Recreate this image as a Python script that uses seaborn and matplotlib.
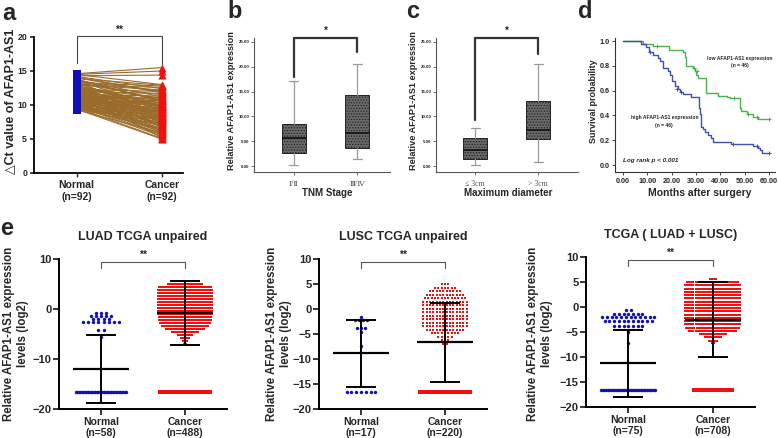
import numpy as np
import pandas as pd
import matplotlib
matplotlib.use("Agg")
import matplotlib.pyplot as plt
import seaborn as sns

# -------------------------------
# Data
# -------------------------------

# a: paired delta Ct values
normal_ct = [14.6, 14.5, 14.3, 14.5, 14.2, 14.0, 13.9, 13.8, 13.7, 13.6,
             13.5, 13.4, 13.3, 13.2, 13.1, 13.0, 12.9, 12.9, 12.8, 12.7,
             12.6, 12.5, 12.4, 12.4, 12.3, 12.2, 12.1, 12.0, 12.0, 11.9,
             11.8, 11.8, 11.7, 11.6, 11.5, 11.5, 11.4, 11.3, 11.3, 11.2,
             11.1, 11.1, 11.0, 10.9, 10.9, 10.8, 10.7, 10.7, 10.6, 10.5,
             10.5, 10.4, 10.4, 10.3, 10.2, 10.2, 10.1, 10.0, 10.0, 9.9,
             9.8, 9.8, 9.7, 9.6, 9.6, 9.5, 9.5, 9.4, 9.3, 9.3,
             13.0, 12.6, 12.2, 11.9, 11.6, 11.2, 10.8, 10.6, 10.3, 10.1,
             9.9, 9.7, 14.1, 13.6, 13.3, 12.8, 12.3, 11.7, 11.4, 11.0,
             10.4, 9.4]
cancer_ct = [15.5, 15.0, 14.4, 13.0, 12.4, 11.8, 12.9, 10.5, 11.2, 9.6,
             12.1, 8.7, 10.9, 9.2, 11.5, 7.9, 10.2, 12.6, 9.9, 8.3,
             11.0, 7.4, 10.6, 9.4, 12.0, 8.9, 6.8, 10.3, 11.7, 9.0,
             7.7, 10.0, 8.5, 11.3, 9.7, 6.3, 8.1, 10.8, 9.3, 7.2,
             10.4, 8.8, 6.0, 9.8, 11.1, 8.0, 9.5, 7.0, 10.1, 8.6,
             5.7, 9.1, 7.6, 10.7, 8.2, 6.6, 9.6, 7.3, 8.9, 5.4,
             8.4, 6.9, 9.0, 7.8, 5.1, 8.0, 6.5, 7.5, 5.9, 8.7,
             12.2, 10.0, 9.8, 8.4, 7.1, 9.0, 6.2, 9.2, 7.9, 5.6,
             7.0, 6.4, 11.9, 10.7, 12.8, 8.2, 6.7, 5.2, 9.9, 8.6,
             6.0, 5.0]

# b, c: box summaries (whisker low, Q1, median, Q3, whisker high)
tnm_labels = ["Ⅰ/Ⅱ", "Ⅲ/Ⅳ"]
tnm_low = [0.2, 1.5]
tnm_q1 = [2.6, 3.6]
tnm_med = [5.7, 6.7]
tnm_q3 = [8.4, 14.3]
tnm_high = [17.1, 20.5]

diam_labels = ["≤ 3cm", "> 3cm"]
diam_low = [0.2, 0.9]
diam_q1 = [1.5, 5.5]
diam_med = [3.3, 7.3]
diam_q3 = [5.6, 13.2]
diam_high = [7.6, 20.5]

# d: Kaplan-Meier steps
low_t = [0, 8.2, 12.4, 19.0, 24.7, 25.4, 26.0, 28.8, 29.5, 30.2, 31.0, 34.0,
         39.0, 42.6, 44.0, 48.0, 48.7, 50.8, 53.6, 55.6, 60.3]
low_s = [1.0, 0.98, 0.96, 0.93, 0.91, 0.87, 0.80, 0.78, 0.76, 0.73, 0.70, 0.58,
         0.56, 0.55, 0.54, 0.46, 0.44, 0.41, 0.39, 0.37, 0.37]
low_cens_t = [14.0, 29.0, 30.6, 45.5, 51.5, 55.0, 60.0]
low_cens_s = [0.96, 0.78, 0.76, 0.54, 0.41, 0.39, 0.37]

high_t = [0, 7.5, 9.6, 10.5, 12.4, 14.4, 15.1, 16.5, 18.5, 19.4, 20.3, 21.3,
          22.7, 23.4, 24.7, 28.0, 31.2, 31.6, 32.0, 33.0, 33.7, 35.0, 36.0,
          37.0, 44.6, 53.6, 55.6, 56.3, 57.0, 60.3]
high_s = [1.0, 0.98, 0.95, 0.91, 0.89, 0.86, 0.84, 0.78, 0.76, 0.73, 0.68, 0.64,
          0.61, 0.59, 0.57, 0.55, 0.46, 0.41, 0.31, 0.29, 0.27, 0.24, 0.22,
          0.19, 0.17, 0.15, 0.14, 0.12, 0.10, 0.10]
high_cens_t = [11.0, 22.0, 23.8, 45.2, 55.2, 60.0]
high_cens_s = [0.91, 0.61, 0.59, 0.17, 0.15, 0.10]

# e: TCGA scatter rows (value level, number of points), floor = -16.6
e_titles = ["LUAD TCGA unpaired", "LUSC TCGA unpaired", "TCGA ( LUAD + LUSC)"]
e_n_normal = [58, 17, 75]
e_n_cancer = [488, 220, 708]
floor_value = -16.6

luad_norm_levels = [-0.7, -1.3, -2.0, -2.6, -4.2, -5.6]
luad_norm_counts = [3, 5, 4, 8, 2, 1]
luad_norm_floor = 35
luad_canc_levels = [5.6, 5.0, 4.4, 3.8, 3.2, 2.6, 2.0, 1.4, 0.8, 0.2, -0.4,
                    -1.0, -1.6, -2.2, -2.8, -3.4, -4.0, -4.6, -5.2, -5.8, -6.4, -7.0]
luad_canc_counts = [6, 18, 27, 28, 28, 28, 28, 28, 28, 28, 28,
                    28, 27, 27, 26, 24, 20, 14, 8, 5, 3, 2]
luad_canc_floor = 29

lusc_norm_levels = [-1.5, -2.1, -3.8, -4.5, -7.3]
lusc_norm_counts = [1, 4, 3, 1, 1]
lusc_norm_floor = 7
lusc_canc_levels = [5.0, 4.3, 3.6, 2.9, 2.2, 1.5, 0.8, 0.1, -0.6, -1.3, -2.0,
                    -2.7, -3.4, -4.1, -4.8, -5.5, -6.2, -6.9]
lusc_canc_counts = [3, 7, 10, 12, 13, 14, 14, 14, 14, 14, 14,
                    14, 14, 12, 9, 5, 3, 2]
lusc_canc_floor = 32

all_norm_levels = [-0.6, -1.3, -2.0, -2.7, -3.8, -5.0, -7.2]
all_norm_counts = [2, 7, 12, 11, 7, 1, 1]
all_norm_floor = 34
all_canc_levels = [5.6, 5.0, 4.35, 3.7, 3.05, 2.4, 1.75, 1.1, 0.45, -0.2, -0.85,
                   -1.5, -2.15, -2.8, -3.45, -4.1, -4.75, -5.4, -6.05, -6.7, -7.1]
all_canc_counts = [4, 26, 28, 28, 28, 28, 28, 28, 28, 28, 28,
                   28, 28, 28, 28, 27, 24, 14, 9, 5, 2]
all_canc_floor = 233

# mean and SD bars
e_norm_mean = [-12.0, -8.8, -11.2]
e_norm_top = [-5.2, -2.1, -4.5]
e_norm_bot = [-18.7, -15.5, -18.0]
e_canc_mean = [-0.7, -6.6, -2.5]
e_canc_top = [5.7, 1.3, 5.0]
e_canc_bot = [-7.1, -14.5, -9.9]

# -------------------------------
# Style
# -------------------------------

sns.set_theme(style="ticks")
plt.rcParams["font.family"] = ["Liberation Sans", "DejaVu Sans"]
plt.rcParams["hatch.linewidth"] = 0.6

W, H = 778, 438
fig = plt.figure(figsize=(W / 100, H / 100), dpi=100)


def px_axes(l, t, r, b):
    return fig.add_axes([l / W, 1 - b / H, (r - l) / W, (b - t) / H])


def ptext(x, y, s, **kw):
    fig.text(x / W, 1 - y / H, s, **kw)


blue = "#1010b8"
red = "#f01010"
brown = "#9a6c2c"

# panel letters
for letter, (x, y) in zip("abcde", [(2, 20), (227, 18), (406, 18), (578, 18), (0, 235)]):
    ptext(x, y, letter, fontsize=17, fontweight="bold", va="baseline")

# -------------------------------
# a: paired lines
# -------------------------------

ax = px_axes(34, 37, 183, 173)
df_a = pd.DataFrame({"pair": list(range(len(normal_ct))) * 2,
                     "group": [0] * len(normal_ct) + [1] * len(cancer_ct),
                     "ct": normal_ct + cancer_ct})
sns.lineplot(data=df_a, x="group", y="ct", units="pair", estimator=None,
             color=brown, lw=0.8, ax=ax, legend=False)
sns.scatterplot(x=[0] * len(normal_ct), y=normal_ct, marker="s", color=blue,
                s=30, linewidth=0, ax=ax, zorder=3)
sns.scatterplot(x=[1] * len(cancer_ct), y=cancer_ct, marker="^", color=red,
                s=34, linewidth=0, ax=ax, zorder=3)
ax.set_xlim(-0.5, 1.25)
ax.set_ylim(0, 20)
ax.set_yticks([0, 5, 10, 15, 20])
ax.set_xticks([0, 1], ["Normal\n(n=92)", "Cancer\n(n=92)"])
ax.set_xlabel("")
ax.set_ylabel("")
sns.despine(ax=ax)
for s in ["left", "bottom"]:
    ax.spines[s].set_linewidth(1.3)
    ax.spines[s].set_color("black")
ax.tick_params(axis="y", length=3, width=1.2, labelsize=6.3, pad=2)
ax.tick_params(axis="x", length=3, width=1.0, labelsize=7.5, pad=2)
for lab in ax.get_xticklabels() + ax.get_yticklabels():
    lab.set_fontweight("bold")
ax.plot([0, 0, 1, 1], [16.2, 20.1, 20.1, 15.9], color="#444444", lw=0.8, clip_on=False)
ax.text(0.5, 20.3, "**", ha="center", va="bottom", fontsize=7.5, fontweight="bold")
ptext(10, 101, "△Ct value of AFAP1-AS1", rotation=90, ha="center", va="center",
      fontsize=9, fontweight="bold")

# -------------------------------
# b, c: box plots
# -------------------------------


def box_panel(ax, low, q1, med, q3, high, labels, legs):
    stats = [dict(whislo=a, q1=b, med=c, q3=d, whishi=e)
             for a, b, c, d, e in zip(low, q1, med, q3, high)]
    ax.bxp(stats, positions=[0, 1], widths=0.38, capwidths=0.14, patch_artist=True,
           showfliers=False,
           boxprops=dict(facecolor="#6a6a6a", edgecolor="#222222", lw=0.7, hatch="......"),
           medianprops=dict(color="#111111", lw=1.2),
           whiskerprops=dict(color="#9a9a9a", lw=0.9),
           capprops=dict(color="#9a9a9a", lw=0.9))
    ax.set_ylim(-1.2, 25.8)
    ax.set_yticks([0, 5, 10, 15, 20, 25], [f"{v:.2f}" for v in [0, 5, 10, 15, 20, 25]])
    ax.set_xticks([0, 1], labels)
    sns.despine(ax=ax)
    for s in ["left", "bottom"]:
        ax.spines[s].set_linewidth(0.8)
        ax.spines[s].set_color("#555555")
    ax.tick_params(axis="y", length=2, width=0.6, labelsize=3.2, pad=1.5, color="#555555")
    ax.tick_params(axis="x", length=2, width=0.6, labelsize=5.6, pad=3.5, color="#555555",
                   labelcolor="#555555")
    for lab in ax.get_yticklabels():
        lab.set_fontweight("bold")
    for lab in ax.get_xticklabels():
        lab.set_family(["Liberation Serif", "DejaVu Serif"])
    ax.plot([0, 0, 1, 1], [legs[0], 25.7, 25.7, legs[1]], color="#333333", lw=1.6,
            clip_on=False)
    ax.text(0.5, 26.3, "*", ha="center", va="bottom", fontsize=7, fontweight="bold")


ax = px_axes(254, 38, 390, 172)
box_panel(ax, tnm_low, tnm_q1, tnm_med, tnm_q3, tnm_high, tnm_labels, (18.0, 23.0))
ax.set_xlim(-0.63, 1.52)
ptext(231, 101, "Relative AFAP1-AS1 expression", rotation=90, ha="center", va="center",
      fontsize=6.6, fontweight="bold")
ptext(327, 193, "TNM Stage", ha="center", va="center", fontsize=7, fontweight="bold")

ax = px_axes(436, 38, 578, 172)
box_panel(ax, diam_low, diam_q1, diam_med, diam_q3, diam_high, diam_labels, (9.2, 22.5))
ax.set_xlim(-0.62, 1.63)
ptext(413, 101, "Relative AFAP1-AS1 expression", rotation=90, ha="center", va="center",
      fontsize=6.6, fontweight="bold")
ptext(508, 193, "Maximum diameter", ha="center", va="center", fontsize=7, fontweight="bold")

# -------------------------------
# d: survival curves
# -------------------------------

ax = px_axes(615, 38, 775, 172)
green = "#4cb04c"
kmblue = "#3f4fb2"
sns.lineplot(x=low_t, y=low_s, drawstyle="steps-post", estimator=None, sort=False,
             color=green, lw=1.0, ax=ax)
sns.lineplot(x=high_t, y=high_s, drawstyle="steps-post", estimator=None, sort=False,
             color=kmblue, lw=1.0, ax=ax)
ax.plot(low_cens_t, low_cens_s, "+", color=green, ms=3.5, mew=0.7)
ax.plot(high_cens_t, high_cens_s, "+", color=kmblue, ms=3.5, mew=0.7)
ax.set_xlim(-3.3, 62.5)
ax.set_ylim(-0.056, 1.025)
ax.set_xticks(range(0, 61, 10), [f"{v:.2f}" for v in range(0, 61, 10)])
ax.set_yticks(np.arange(0, 1.01, 0.2), [f"{v:.1f}" for v in np.arange(0, 1.01, 0.2)])
sns.despine(ax=ax)
for s in ["left", "bottom"]:
    ax.spines[s].set_linewidth(0.8)
    ax.spines[s].set_color("#333333")
ax.tick_params(length=2, width=0.6, labelsize=5.2, pad=2)
for lab in ax.get_xticklabels() + ax.get_yticklabels():
    lab.set_fontweight("bold")
ax.text(48, 0.83, "low AFAP1-AS1 expression\n(n = 46)", ha="center", va="center",
        fontsize=3.6, fontweight="bold", linespacing=1.6)
ax.text(17, 0.35, "high AFAP1-AS1 expression\n(n = 46)", ha="center", va="center",
        fontsize=3.6, fontweight="bold", linespacing=1.6)
ax.text(0, 0.04, "Log rank p < 0.001", ha="left", va="center", fontsize=4.6,
        fontweight="bold", style="italic")
ptext(593, 101, "Survival probability", rotation=90, ha="center", va="center",
      fontsize=6.5, fontweight="bold")
ptext(700, 193, "Months after surgery", ha="center", va="center", fontsize=7.5,
      fontweight="bold")

# -------------------------------
# e: TCGA scatter panels
# -------------------------------


def row_points(center, levels, counts, step):
    xs, ys = [], []
    for lv, c in zip(levels, counts):
        off = (np.arange(c) - (c - 1) / 2) * step
        xs.extend(center + off)
        ys.extend([lv] * c)
    return xs, ys


def floor_points(center, count, span):
    off = np.linspace(-span / 2, span / 2, count) if count > 1 else np.array([0.0])
    return list(center + off), [floor_value] * count


e_boxes = [(59, 259, 227, 409), (319, 259, 487, 409), (586, 257, 755, 407)]
e_ylab_x = [16, 279, 540]
e_norm = [(luad_norm_levels, luad_norm_counts, luad_norm_floor, 0.06, 0.6),
          (lusc_norm_levels, lusc_norm_counts, lusc_norm_floor, 0.048, 0.34),
          (all_norm_levels, all_norm_counts, all_norm_floor, 0.056, 0.64)]
e_canc = [(luad_canc_levels, luad_canc_counts, luad_canc_floor, 0.024, 0.6, 2.4),
          (lusc_canc_levels, lusc_canc_counts, lusc_canc_floor, 0.04, 0.6, 3.8),
          (all_canc_levels, all_canc_counts, all_canc_floor, 0.024, 0.45, 2.4)]

for i in range(3):
    ax = px_axes(*e_boxes[i])
    lv, ct, fl, step, span = e_norm[i]
    nx, ny = row_points(0, lv, ct, step)
    fx, fy = floor_points(0, fl, span)
    sns.scatterplot(x=nx + fx, y=ny + fy, marker="o", color=blue, s=6, linewidth=0,
                    ax=ax, zorder=2)
    lv, ct, fl, step, span, msize = e_canc[i]
    cx, cy = row_points(1, lv, ct, step)
    sns.scatterplot(x=cx, y=cy, marker="s", color=red, s=msize, linewidth=0,
                    ax=ax, zorder=2)
    fx, fy = floor_points(1, fl, span)
    sns.scatterplot(x=fx, y=fy, marker="s", color=red, s=6, linewidth=0,
                    ax=ax, zorder=2)

    # mean and SD
    for pos, m, t, b in [(0, e_norm_mean[i], e_norm_top[i], e_norm_bot[i]),
                         (1, e_canc_mean[i], e_canc_top[i], e_canc_bot[i])]:
        ax.vlines(pos, b, t, color="black", lw=1.4, zorder=3)
        ax.hlines([t, b], pos - 0.18, pos + 0.18, color="black", lw=1.4, zorder=3)
        ax.hlines(m, pos - 0.33, pos + 0.33, color="black", lw=1.6, zorder=3)

    ax.set_xlim(-0.5, 1.5)
    ax.set_ylim(-20, 10)
    ax.set_yticks([-20, -15, -10, -5, 0, 5, 10] if i > 0 else [-20, -10, 0, 10])
    ax.set_xticks([0, 1], [f"Normal\n(n={e_n_normal[i]})", f"Cancer\n(n={e_n_cancer[i]})"])
    ax.set_xlabel("")
    ax.set_ylabel("")
    sns.despine(ax=ax)
    for s in ["left", "bottom"]:
        ax.spines[s].set_linewidth(1.4)
        ax.spines[s].set_color("black")
    ax.tick_params(axis="y", length=4, width=1.3, labelsize=8, pad=1.5)
    ax.tick_params(axis="x", length=4, width=1.3, labelsize=7.5, pad=1.5)
    for lab in ax.get_xticklabels() + ax.get_yticklabels():
        lab.set_fontweight("bold")
    ax.set_title(e_titles[i], fontsize=9, fontweight="bold", pad=14)
    ax.plot([0, 0, 1, 1], [8.3, 9.5, 9.5, 8.3], color="#555555", lw=0.8, clip_on=False)
    ax.text(0.5, 9.9, "**", ha="center", va="bottom", fontsize=7.5, fontweight="bold")
    ptext(e_ylab_x[i], 334, "Relative AFAP1-AS1 expression\nlevels (log2)", rotation=90,
          ha="center", va="center", fontsize=8.3, fontweight="bold", linespacing=1.15)

fig.savefig("out.png", dpi=100)
